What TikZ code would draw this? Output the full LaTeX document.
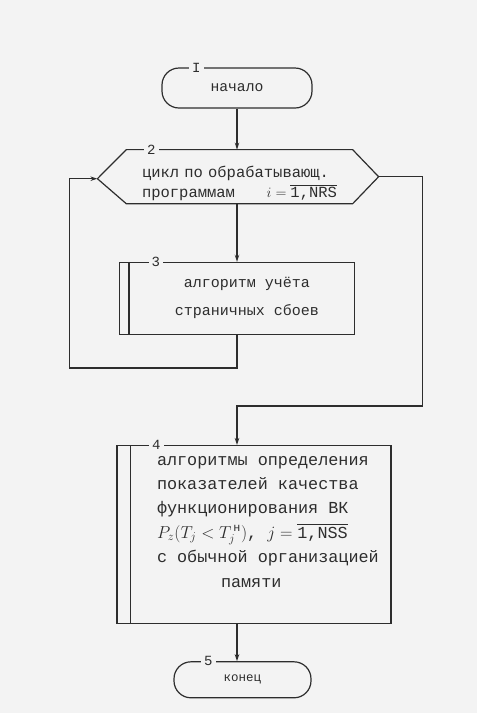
\documentclass[tikz,border=0pt]{standalone}
\usepackage{amsmath}
\usepackage{fontspec}
\setmainfont{Liberation Mono}
\usetikzlibrary{positioning,arrows.meta,calc}
\definecolor{paper}{RGB}{243,243,243}
\definecolor{ink}{RGB}{45,45,45}

\begin{document}
\begin{tikzpicture}[
  x=1pt, y=-1pt, >={Stealth[length=7pt,width=4.5pt]},
  line width=1.2pt, color=ink,
  term/.style={draw, rounded corners=17pt, minimum width=150pt,
               minimum height=40pt, font=\fontsize{14.7}{16}\selectfont},
  block/.style={draw, align=center, inner sep=0pt},
  numlbl/.style={fill=paper, inner xsep=3pt, inner ysep=1pt,
                 font=\fontsize{14}{16}\selectfont},
  arr/.style={->, line width=1.2pt},
]
\fill[paper] (0,0) rectangle (477,713);

\node[term] (start) at (237,88) {начало};
\node[below=41pt of start, xshift=2.5pt, minimum width=225pt, minimum height=53pt,
      text width=195pt, align=left, inner sep=0pt,
      font=\fontsize{15.5}{20}\selectfont] (loop)
  {\rule{0pt}{25pt}цикл по обрабатывающ.\\программам\hfill$i = \overline{\text{1,NRS}}$};
\node[block, below=58pt of loop, xshift=-2.5pt, minimum width=235pt, minimum height=72pt,
      font=\fontsize{15}{28}\selectfont] (body3)
  {\hspace*{20pt}алгоритм учёта\\\hspace*{20pt}страничных сбоев};
\node[block, below=110pt of body3, xshift=17pt,
      minimum width=274pt, minimum height=178pt] (box4) {};
\node[anchor=west, align=left, inner sep=0pt,
      font=\fontsize{16.8}{24.4}\selectfont] (box4text)
  at ($(box4.west)+(40,-13)$)
  {алгоритмы определения\\показателей качества\\функционирования ВК\\
   $P_z(T_j < T_j^{\,\text{н}})$, $j = \overline{\text{1,NSS}}$\\
   с обычной организацией\\\hspace*{64pt}памяти};
\node[term, below=37pt of box4, xshift=-11.5pt, minimum width=137pt,
      minimum height=36pt, font=\fontsize{12.5}{14}\selectfont] (finish) {конец};

% шестиугольник цикла и двойные боковые линии
\coordinate (loopin) at ($(loop.west)+(-29,2)$);
\coordinate (loopout) at ($(loop.east)+(26,0)$);
\draw[line join=round] (loopin) -- (loop.north west) -- (loop.north east) -- (loopout)
  -- (loop.south east) -- (loop.south west) -- cycle;
\draw ($(body3.north west)+(10,0)$) -- ($(body3.south west)+(10,0)$);
\draw ($(box4.north west)+(14,0)$) -- ($(box4.south west)+(14,0)$);

\draw[arr] (start) -- (start |- loop.north);
\draw[arr] (body3 |- loop.south) -- (body3);
% возврат к началу цикла слева
\coordinate (backlane) at ($(loopin)+(-28,0)$);
\draw[arr] (body3.south) -- ++(0,33) -| (backlane) -- (loopin);
% выход из цикла справа
\coordinate (exitlane) at ($(loopout)+(44,0)$);
\coordinate (joint) at ($(box4.north -| start)+(0,-39)$);
\draw[arr] (loopout) -- (exitlane) |- (joint) -- (box4.north -| start);
\draw[arr] (box4.south -| start) -- (finish.north -| start);

\node[numlbl] (n1) at ($(start.north west)+(35,0)$) {I};
\node[numlbl] (n2) at ($(loop.north west)+(25,0)$) {2};
\node[numlbl] (n3) at ($(body3.north west)+(37,0)$) {3};
\node[numlbl] (n4) at ($(box4.north west)+(40,0)$) {4};
\node[numlbl] (n5) at ($(finish.north west)+(35,0)$) {5};
\end{tikzpicture}
\end{document}
